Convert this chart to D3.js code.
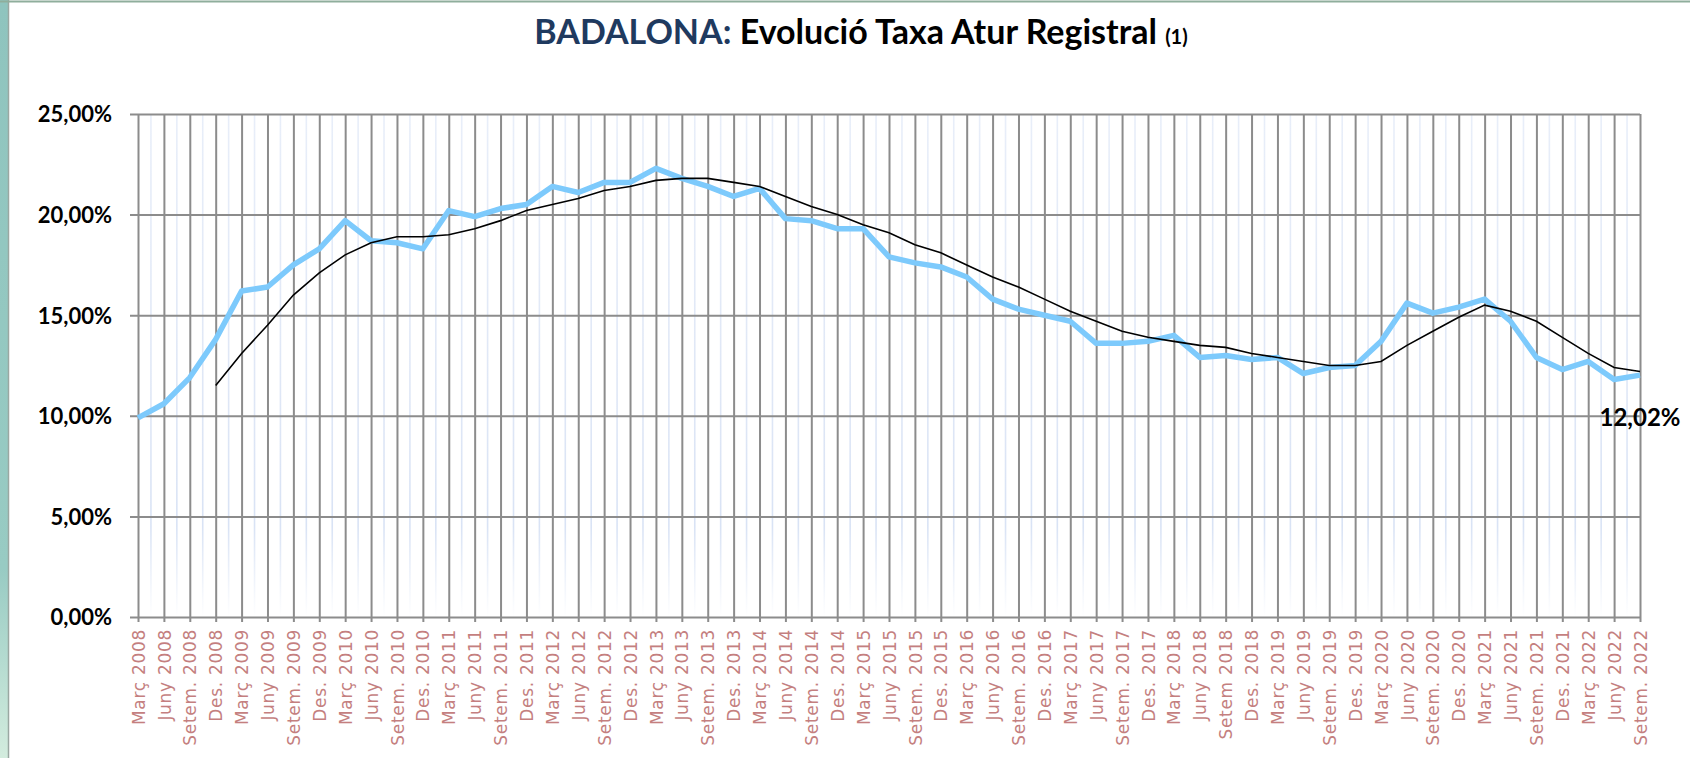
<!DOCTYPE html>
<html>
<head>
<meta charset="utf-8">
<script src="https://cdn.jsdelivr.net/npm/d3@7"></script>
<style>
  html, body { margin: 0; padding: 0; background: #fff; }
  svg { display: block; }
  .ylab text { font-family: Lato, "Open Sans", sans-serif; font-weight: 700; font-size: 22px; fill: #000; }
  .xlab text { font-family: "DejaVu Sans", sans-serif; font-size: 17px; fill: #c47f7f; letter-spacing: 0.7px; }
</style>
</head>
<body>
<div id="chart"></div>
<script>
(function () {
  "use strict";

  // Dimensions
  const totalW = 1690, totalH = 758;
  const plot = { left: 138, right: 1640, top: 114, bottom: 617 };

  // Data
  const periods = [
    "Març 2008", "Juny 2008", "Setem. 2008", "Des. 2008",
    "Març 2009", "Juny 2009", "Setem. 2009", "Des. 2009",
    "Març 2010", "Juny 2010", "Setem. 2010", "Des. 2010",
    "Març 2011", "Juny 2011", "Setem. 2011", "Des. 2011",
    "Març 2012", "Juny 2012", "Setem. 2012", "Des. 2012",
    "Març 2013", "Juny 2013", "Setem. 2013", "Des. 2013",
    "Març 2014", "Juny 2014", "Setem. 2014", "Des. 2014",
    "Març 2015", "Juny 2015", "Setem. 2015", "Des. 2015",
    "Març 2016", "Juny 2016", "Setem. 2016", "Des. 2016",
    "Març 2017", "Juny 2017", "Setem. 2017", "Des. 2017",
    "Març 2018", "Juny 2018", "Setem 2018", "Des. 2018",
    "Març 2019", "Juny 2019", "Setem. 2019", "Des. 2019",
    "Març 2020", "Juny 2020", "Setem. 2020", "Des. 2020",
    "Març 2021", "Juny 2021", "Setem. 2021", "Des. 2021",
    "Març 2022", "Juny 2022", "Setem. 2022"
  ];

  // Taxa d'atur registral (%)
  const taxaAtur = [
    9.9, 10.6, 11.9, 13.8,
    16.2, 16.4, 17.5, 18.3,
    19.7, 18.7, 18.6, 18.3,
    20.2, 19.9, 20.3, 20.5,
    21.4, 21.1, 21.6, 21.6,
    22.3, 21.8, 21.4, 20.9,
    21.3, 19.8, 19.7, 19.3,
    19.3, 17.9, 17.6, 17.4,
    16.9, 15.8, 15.3, 15.0,
    14.7, 13.6, 13.6, 13.7,
    14.0, 12.9, 13.0, 12.8,
    12.9, 12.1, 12.4, 12.5,
    13.7, 15.6, 15.1, 15.4,
    15.8, 14.7, 12.9, 12.3,
    12.7, 11.8, 12.02
  ];

  // Mitjana mòbil (4 trimestres), comença a Des. 2008
  const mitjanaMobil = [
    null, null, null, 11.5,
    13.1, 14.5, 16.0, 17.1,
    18.0, 18.6, 18.9, 18.9,
    19.0, 19.3, 19.7, 20.2,
    20.5, 20.8, 21.2, 21.4,
    21.7, 21.8, 21.8, 21.6,
    21.4, 20.9, 20.4, 20.0,
    19.5, 19.1, 18.5, 18.1,
    17.5, 16.9, 16.4, 15.8,
    15.2, 14.7, 14.2, 13.9,
    13.7, 13.5, 13.4, 13.1,
    12.9, 12.7, 12.5, 12.5,
    12.7, 13.5, 14.2, 14.9,
    15.5, 15.2, 14.7, 13.9,
    13.1, 12.4, 12.2
  ];

  const yTicks = [0, 5, 10, 15, 20, 25];
  const fmtPct = d => d.toFixed(2).replace(".", ",") + "%";

  // Scales
  const x = d3.scalePoint().domain(periods).range([plot.left, plot.right]);
  const y = d3.scaleLinear().domain([0, 25]).range([plot.bottom, plot.top]);
  const plotW = plot.right - plot.left;
  const plotH = plot.bottom - plot.top;

  const svg = d3.select("#chart")
    .append("svg")
    .attr("width", totalW)
    .attr("height", totalH);

  const defs = svg.append("defs");

  // Left frame strip gradient
  const sideGrad = defs.append("linearGradient")
    .attr("id", "sideGrad").attr("x1", 0).attr("x2", 0).attr("y1", 0).attr("y2", 1);
  sideGrad.append("stop").attr("offset", "0%").attr("stop-color", "#8fc4be");
  sideGrad.append("stop").attr("offset", "75%").attr("stop-color", "#98cbc3");
  sideGrad.append("stop").attr("offset", "100%").attr("stop-color", "#d3ecde");

  // Minor vertical line gradient (fades near the bottom)
  const minorGrad = defs.append("linearGradient")
    .attr("id", "minorGrad").attr("gradientUnits", "userSpaceOnUse")
    .attr("x1", 0).attr("x2", 0).attr("y1", plot.top).attr("y2", plot.bottom);
  minorGrad.append("stop").attr("offset", "0%").attr("stop-color", "#e8eef9");
  minorGrad.append("stop").attr("offset", "55%").attr("stop-color", "#dfe7f6");
  minorGrad.append("stop").attr("offset", "82%").attr("stop-color", "#d9e3f5");
  minorGrad.append("stop").attr("offset", "100%").attr("stop-color", "#ffffff");

  // Frame
  svg.append("rect").attr("x", 0).attr("y", 0).attr("width", 8).attr("height", totalH)
    .attr("fill", "url(#sideGrad)");
  svg.append("line").attr("x1", 8.5).attr("x2", 8.5).attr("y1", 0).attr("y2", totalH)
    .attr("stroke", "#9aa8a2").attr("stroke-width", 1.5);
  svg.append("line").attr("x1", 0).attr("x2", totalW).attr("y1", 1.5).attr("y2", 1.5)
    .attr("stroke", "#8fae9c").attr("stroke-width", 2);

  // Title
  const title = svg.append("text")
    .attr("x", 861)
    .attr("y", 44)
    .attr("text-anchor", "middle")
    .style("font-family", "Lato, 'Open Sans', sans-serif")
    .style("font-weight", 700)
    .style("font-size", "34px");
  title.append("tspan").attr("fill", "#1f3a5f").text("BADALONA: ");
  title.append("tspan").attr("fill", "#000").text("Evolució Taxa Atur Registral ");
  title.append("tspan").attr("fill", "#000").style("font-size", "20px").text("(1)");

  // Minor vertical lines at midpoints
  const mids = periods.slice(1).map((p, i) => (x(periods[i]) + x(p)) / 2);
  svg.append("g")
    .selectAll("line")
    .data(mids)
    .join("line")
    .attr("x1", d => d).attr("x2", d => d)
    .attr("y1", plot.top + 1).attr("y2", plot.bottom - 1)
    .attr("stroke", "url(#minorGrad)")
    .attr("stroke-width", 1.6);

  // Vertical gridlines + bottom ticks
  const xGrid = svg.append("g")
    .attr("transform", `translate(0,${plot.top})`)
    .call(d3.axisBottom(x).tickSize(plotH + 5).tickFormat(""));
  xGrid.select(".domain").remove();
  xGrid.selectAll("line").attr("stroke", "#8c8c8c").attr("stroke-width", 2);

  // Horizontal gridlines + y labels
  const yAxis = svg.append("g")
    .attr("class", "ylab")
    .attr("transform", `translate(${plot.left - 8},0)`)
    .call(d3.axisLeft(y).tickValues(yTicks).tickSize(-(plotW + 8)).tickPadding(18).tickFormat(fmtPct));
  yAxis.select(".domain").remove();
  yAxis.selectAll("line").attr("stroke", "#8c8c8c").attr("stroke-width", 2);
  yAxis.selectAll("text").attr("dy", "0.36em");

  // X labels (rotated)
  const xAxis = svg.append("g")
    .attr("class", "xlab")
    .attr("transform", `translate(0,${plot.bottom})`)
    .call(d3.axisBottom(x).tickSize(0).tickPadding(0));
  xAxis.select(".domain").remove();
  xAxis.selectAll("text")
    .attr("y", 0)
    .attr("dy", "0.36em")
    .attr("text-anchor", "end")
    .attr("transform", "translate(0,12) rotate(-90)");

  // Lines
  const blueLine = d3.line()
    .x((d, i) => x(periods[i]))
    .y(d => y(d));

  const avgLine = d3.line()
    .defined(d => d !== null)
    .x((d, i) => x(periods[i]))
    .y(d => y(d));

  svg.append("path")
    .datum(taxaAtur)
    .attr("fill", "none")
    .attr("stroke", "#7dcafc")
    .attr("stroke-width", 5.5)
    .attr("stroke-linejoin", "round")
    .attr("d", blueLine);

  svg.append("path")
    .datum(mitjanaMobil)
    .attr("fill", "none")
    .attr("stroke", "#000")
    .attr("stroke-width", 1.6)
    .attr("d", avgLine);

  // Last value label
  const lastI = taxaAtur.length - 1;
  svg.append("text")
    .attr("x", x(periods[lastI]))
    .attr("y", y(taxaAtur[lastI]) + 42)
    .attr("dy", "0.36em")
    .attr("text-anchor", "middle")
    .style("font-family", "Lato, 'Open Sans', sans-serif")
    .style("font-weight", 700)
    .style("font-size", "24px")
    .text(fmtPct(taxaAtur[lastI]));

})();
</script>
</body>
</html>
